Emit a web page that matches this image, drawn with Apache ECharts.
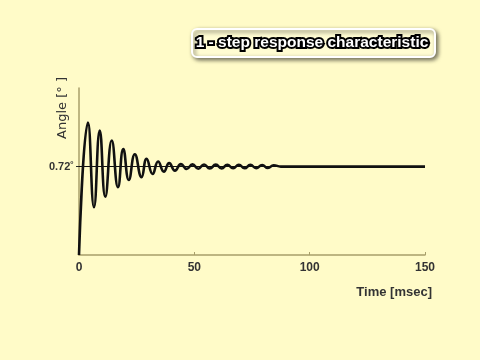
<!DOCTYPE html>
<html>
<head>
<meta charset="utf-8">
<script src="https://cdn.jsdelivr.net/npm/echarts@6/dist/echarts.min.js"></script>
<style>
html,body{margin:0;padding:0;background:#fffbc8;}
#c{width:480px;height:360px;}
</style>
</head>
<body>
<div id="c"></div>
<script>
// Data
const timeMs = [0, 3.9, 6.5, 9.0, 11.4, 14.2, 16.9, 19.2, 21.6, 24.2, 27.1, 29.3, 31.9, 34.3, 36.8, 39.1, 41.6,
  44.2, 46.7, 49.2, 51.7, 54.2, 56.7, 59.3, 61.8, 64.3, 66.8, 69.3, 71.8, 74.3, 76.8, 79.4, 81.9, 84.4, 87.5, 150];
const angleDeg = [0, 1.079, 0.389, 1.014, 0.475, 0.932, 0.552, 0.862, 0.611, 0.821, 0.634, 0.783, 0.660, 0.761, 0.679, 0.748, 0.687,
  0.740, 0.701, 0.738, 0.703, 0.737, 0.704, 0.736, 0.705, 0.735, 0.706, 0.735, 0.706, 0.734, 0.707, 0.733, 0.708, 0.731, 0.72, 0.72];
const steadyValue = 0.72;
const yLabelValues = [0.72];
const xTicks = [0, 50, 100, 150];
const titleText = '1 - step response characteristic';
const yName = 'Angle [° ]';
const xName = 'Time [msec]';

const chart = echarts.init(document.getElementById('c'), null, {renderer: 'canvas'});
const axisColor = '#a89f6a';
const txt = '#333';
chart.setOption({
  backgroundColor: '#fffbc8',
  animation: false,
  grid: {left: 79, right: 55, top: 88, bottom: 105},
  xAxis: {
    type: 'value', min: 0, max: 150, interval: 50,
    axisLine: {show: true, lineStyle: {color: axisColor, width: 1.5}},
    axisTick: {show: true, inside: true, length: 3, lineStyle: {color: axisColor}},
    splitLine: {show: false},
    axisLabel: {color: txt, fontWeight: 'bold', fontSize: 12, fontFamily: 'Liberation Sans, Arial', margin: 7,
      formatter: v => xTicks.includes(v) ? String(v) : ''}
  },
  yAxis: {
    type: 'value', min: 0, max: 1.36,
    axisLine: {show: true, lineStyle: {color: axisColor, width: 1.5}},
    axisTick: {show: true, length: 3, customValues: yLabelValues, lineStyle: {color: '#222'}},
    splitLine: {show: false},
    axisLabel: {customValues: yLabelValues, color: txt, fontWeight: 'bold', fontSize: 11,
      fontFamily: 'Liberation Sans, Arial', margin: 5, formatter: v => v.toFixed(2) + '˚'}
  },
  series: [{
    type: 'line',
    data: timeMs.map((t, i) => [t, angleDeg[i]]),
    smooth: 0.5,
    showSymbol: false,
    lineStyle: {color: '#111', width: 2.6},
    markLine: {
      silent: true, symbol: 'none', label: {show: false},
      lineStyle: {color: '#111', width: 1, type: 'solid'},
      data: [{yAxis: steadyValue}]
    }
  }],
  graphic: [
    {type: 'rect', shape: {x: 192, y: 29, width: 243, height: 28, r: 5},
     style: {fill: '#fffcd2', stroke: '#ffffff', lineWidth: 2, shadowBlur: 4, shadowColor: 'rgba(0,0,0,0.55)', shadowOffsetX: 2, shadowOffsetY: 2}},
    {type: 'text', x: 312, y: 43,
     style: {text: titleText, fill: '#ffffff', stroke: '#000', lineWidth: 4, font: 'bold 15.5px "Liberation Sans", Arial', align: 'center', verticalAlign: 'middle'}},
    {type: 'text', x: 63, y: 108, rotation: Math.PI / 2,
     style: {text: yName, fill: txt, font: '13px "DejaVu Sans", Arial', align: 'center', verticalAlign: 'middle'}},
    {type: 'text', x: 432, y: 292,
     style: {text: xName, fill: txt, font: 'bold 13px "Liberation Sans", Arial', align: 'right', verticalAlign: 'middle'}}
  ]
});
</script>
</body>
</html>
